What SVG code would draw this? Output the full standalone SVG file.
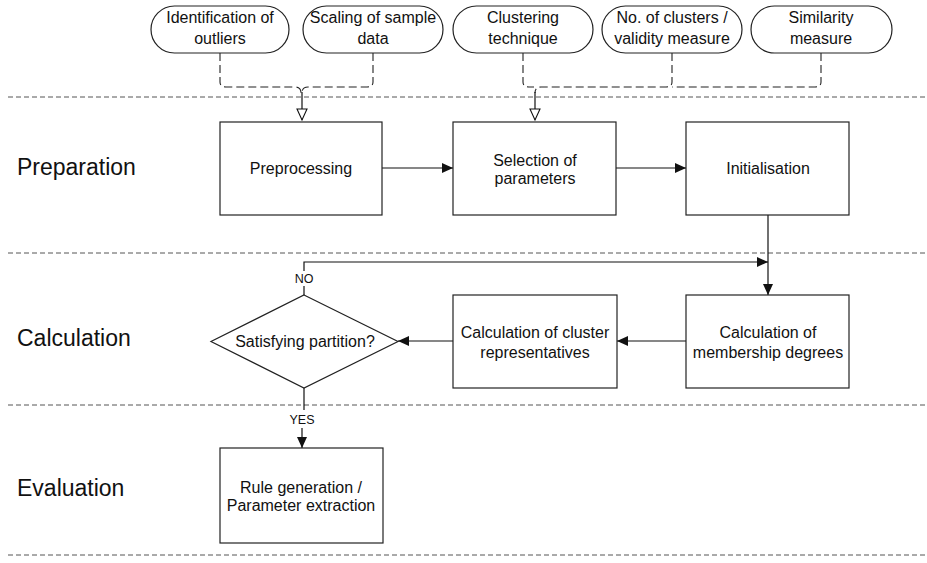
<svg xmlns="http://www.w3.org/2000/svg" width="927" height="563" viewBox="0 0 927 563">
<defs>
<style>
.lane{stroke:#555;stroke-width:1;stroke-dasharray:5 3;fill:none}
.box{fill:#fff;stroke:#222;stroke-width:1.2}
.pill{fill:#fff;stroke:#222;stroke-width:1.2}
.c{stroke:#111;stroke-width:1.2;fill:none}
.d{stroke:#222;stroke-width:1.1;fill:none;stroke-dasharray:8 4}
text{font-family:"Liberation Sans",Arial,sans-serif;fill:#111}
.t{font-size:16px;text-anchor:middle}
.lbl{font-size:23px}
.s{font-size:12.5px;text-anchor:middle}
</style>
<marker id="a" markerWidth="12" markerHeight="10" refX="11" refY="5" orient="auto" markerUnits="userSpaceOnUse"><path d="M0,0 L11,5 L0,10 Z" fill="#111"/></marker>
<marker id="h" markerWidth="14" markerHeight="12" refX="12" refY="6" orient="auto" markerUnits="userSpaceOnUse"><path d="M1,1 L12,6 L1,11 Z" fill="#fff" stroke="#111" stroke-width="1.1"/></marker>
</defs>
<g id="lanes">
<line class="lane" x1="8" y1="97" x2="927" y2="97"/>
<line class="lane" x1="8" y1="253" x2="927" y2="253"/>
<line class="lane" x1="8" y1="405" x2="927" y2="405"/>
<line class="lane" x1="8" y1="555" x2="927" y2="555"/>
<text class="lbl" x="17" y="175">Preparation</text>
<text class="lbl" x="17" y="346">Calculation</text>
<text class="lbl" x="17" y="496">Evaluation</text>
</g>
<g id="connectors">
<path class="d" d="M220,53 V82 Q220,87 226,87 H295 Q301,87 301,93"/>
<path class="d" d="M373,53 V82 Q373,87 367,87 H308 Q302,87 302,93"/>
<path class="c" d="M302,92 V120" marker-end="url(#h)"/>
<path class="d" d="M523,53 V82 Q523,87 529,87 H534"/>
<path class="d" d="M672,53 V82 Q672,87 666,87 H541 Q535,87 535,93"/>
<path class="d" d="M821,53 V82 Q821,87 815,87 H672"/>
<path class="c" d="M535,92 V120" marker-end="url(#h)"/>
<path class="c" d="M382,168 H453" marker-end="url(#a)"/>
<path class="c" d="M616,168 H686" marker-end="url(#a)"/>
<path class="c" d="M768,215 V295" marker-end="url(#a)"/>
<path class="c" d="M686,341 H617" marker-end="url(#a)"/>
<path class="c" d="M453,341 H398" marker-end="url(#a)"/>
<path class="c" d="M304,295 V286"/>
<path class="c" d="M304,271 V262 H768" marker-end="url(#a)"/>
<text class="s" x="304" y="283">NO</text>
<path class="c" d="M304,388 V410"/>
<text class="s" x="302" y="424">YES</text>
<path class="c" d="M302,428 V448" marker-end="url(#a)"/>
</g>
<g id="p1"><rect class="pill" x="151" y="6" width="138" height="47" rx="23.5"/><text class="t" x="220" y="23">Identification of</text><text class="t" x="220" y="44">outliers</text></g>
<g id="p2"><rect class="pill" x="303" y="6" width="140" height="47" rx="23.5"/><text class="t" x="373" y="23">Scaling of sample</text><text class="t" x="373" y="44">data</text></g>
<g id="p3"><rect class="pill" x="453" y="6" width="140" height="47" rx="23.5"/><text class="t" x="523" y="23">Clustering</text><text class="t" x="523" y="44">technique</text></g>
<g id="p4"><rect class="pill" x="602" y="6" width="140" height="47" rx="23.5"/><text class="t" x="672" y="23">No. of clusters /</text><text class="t" x="672" y="44">validity measure</text></g>
<g id="p5"><rect class="pill" x="751" y="6" width="141" height="47" rx="23.5"/><text class="t" x="821" y="23">Similarity</text><text class="t" x="821" y="44">measure</text></g>
<g id="preprocessing"><rect class="box" x="220" y="122" width="162" height="93"/><text class="t" x="301" y="174">Preprocessing</text></g>
<g id="selection"><rect class="box" x="453" y="122" width="163" height="93"/><text class="t" x="535" y="166">Selection of</text><text class="t" x="535" y="184">parameters</text></g>
<g id="init"><rect class="box" x="686" y="122" width="163" height="93"/><text class="t" x="768" y="174">Initialisation</text></g>
<g id="membership"><rect class="box" x="686" y="295" width="163" height="93"/><text class="t" x="768" y="338">Calculation of</text><text class="t" x="768" y="358">membership degrees</text></g>
<g id="representatives"><rect class="box" x="453" y="295" width="164" height="93"/><text class="t" x="535" y="338">Calculation of cluster</text><text class="t" x="535" y="358">representatives</text></g>
<g id="decision"><polygon class="box" points="304,295 398,341.5 304,388 211,341.5"/><text class="t" x="305" y="347">Satisfying partition?</text></g>
<g id="rules"><rect class="box" x="220" y="448" width="163" height="95"/><text class="t" x="301" y="493">Rule generation /</text><text class="t" x="301" y="511">Parameter extraction</text></g>
</svg>
